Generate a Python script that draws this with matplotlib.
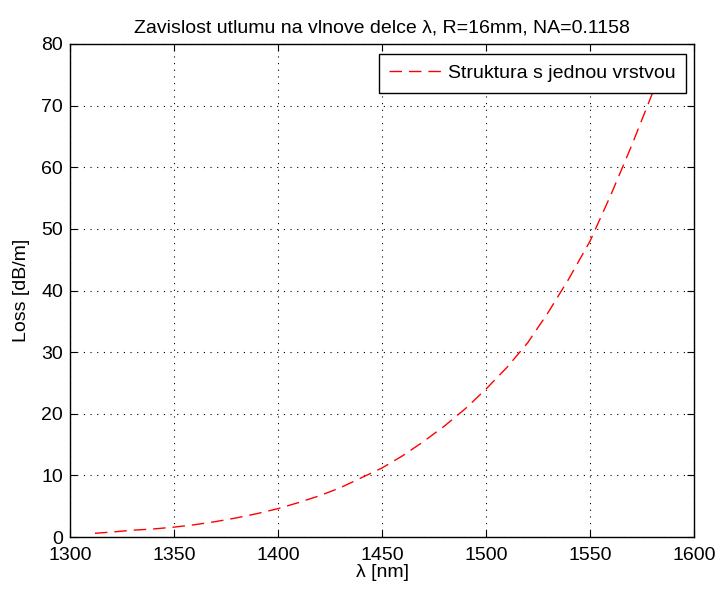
import matplotlib
matplotlib.use("Agg")
import matplotlib.pyplot as plt

wavelength = [1312, 1320, 1330, 1340, 1350, 1360, 1370, 1380, 1390, 1400, 1410, 1420,
              1430, 1440, 1450, 1460, 1470, 1480, 1490, 1500, 1510, 1520, 1530, 1540,
              1550, 1560, 1570, 1580, 1586]
loss = [0.6, 0.8, 1.1, 1.3, 1.6, 2.0, 2.5, 3.1, 3.8, 4.6, 5.6, 6.7,
        8.0, 9.6, 11.2, 13.2, 15.5, 18.0, 20.8, 24.0, 27.5, 31.5, 36.5, 42.0,
        48.0, 55.5, 63.5, 72.0, 78.0]
series_label = "Struktura s jednou vrstvou"
title = "Zavislost utlumu na vlnove delce \u03bb, R=16mm, NA=0.1158"
xlabel = "\u03bb [nm]"
ylabel = "Loss [dB/m]"

plt.rcParams['font.family'] = ['Liberation Sans', 'DejaVu Sans']
fig = plt.figure(figsize=(7.17, 5.9), dpi=100)
ax = fig.add_axes([70 / 717, 53 / 590, 624 / 717, 493 / 590])
ax.plot(wavelength, loss, color='red', linestyle=(0, (9, 5)), linewidth=1.0, label=series_label)
ax.set_xlim(1300, 1600)
ax.set_ylim(0, 80)
ax.set_xticks(range(1300, 1601, 50))
ax.set_yticks(range(0, 81, 10))
ax.grid(True, color='black', linestyle=(0, (1, 5)), linewidth=0.8)
ax.tick_params(direction='in', top=True, right=True, labelsize=14, length=5)
ax.tick_params(axis='x', pad=7)
ax.tick_params(axis='y', pad=5)
for s in ax.spines.values():
    s.set_linewidth(1.0)
ax.set_title(title, fontsize=14, pad=8)
ax.set_xlabel(xlabel, fontsize=14, labelpad=0)
ax.set_ylabel(ylabel, fontsize=14, labelpad=8)
leg = ax.legend(loc='upper right', bbox_to_anchor=(0.987, 0.980), borderaxespad=0,
                fontsize=14, fancybox=False, framealpha=1, edgecolor='black',
                handlelength=2.65, handletextpad=0.35, borderpad=0.55)
leg.get_frame().set_linewidth(1.0)
fig.savefig("out.png", dpi=100)
